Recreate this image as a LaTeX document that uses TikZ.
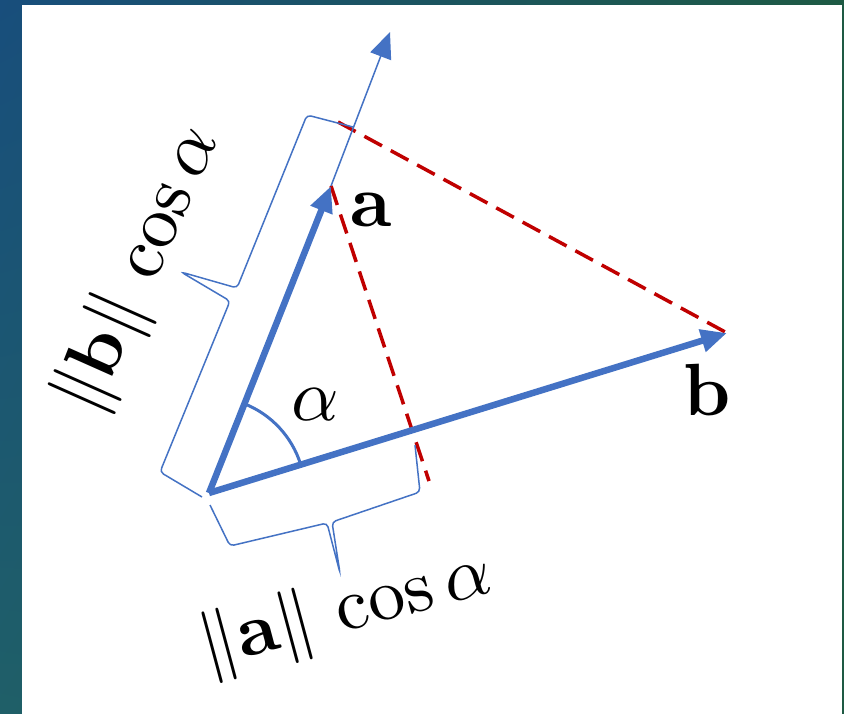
\documentclass[tikz,border=0pt]{standalone}
\usepackage{graphicx}
\usetikzlibrary{arrows.meta,calc,shadings}
\definecolor{vecblue}{HTML}{4472C4}
\definecolor{projred}{HTML}{C00000}
\definecolor{frameblue}{HTML}{184E7C}
\definecolor{frameteal}{HTML}{1F5F68}
\definecolor{framegreen}{HTML}{1E5A44}
\newcommand{\huglabel}[1]{\scalebox{7.4}{#1}}

\begin{document}
\begin{tikzpicture}[x=1pt, y=-1pt]
		\tikzstyle{vec}=[vecblue, line width=6.5pt, -{Triangle[length=26pt,width=22pt]}];
		\tikzstyle{axis}=[vecblue, line width=1.5pt, -{Triangle[length=26pt,width=22pt]}];
		\tikzstyle{proj}=[projred, line width=3.5pt, dash pattern=on 20pt off 10pt];
		\tikzstyle{bracket}=[vecblue, line width=1.5pt, rounded corners=4pt];
		\tikzstyle{lbl}=[inner sep=0pt];

		% frame
		\shade[upper left=frameblue, upper right=framegreen, lower left=frameteal, lower right=framegreen] (0,0) rectangle (844,714);
		\fill[white] (22,5) rectangle (841.5,714);

		\coordinate (O) at (209,493);
		\coordinate (A) at (331,186);
		\coordinate (B) at (727,333);
		\coordinate (E) at (390,32);
		\coordinate (P) at (338,122);
		\coordinate (Q) at (429,481);

		\draw[proj] (P) to (B) ;
		\draw[proj] (A) to (Q) ;
		\draw[axis] (A) to (E) ;
		\draw[vec] (O) to (A) ;
		\draw[vec] (O) to (B) ;
		\draw[vecblue, line width=3pt] ($(O)+(-17.2:96)$) arc[start angle=-17.2, end angle=-68.3, radius=96];

		% braces
		\draw[bracket] (353,127) -- (307,115) -- (237,288) -- (181,272) -- (230,301) -- (160,472) -- (202,497);
		\draw[bracket] (210,505) -- (230,546) -- (327,523) -- (340,573) -- (332,522) -- (420,492) -- (415,445);

		\node[lbl] (la) at (371,210) {\huglabel{\textbf{a}}};
		\node[lbl] (lb) at (707,390) {\huglabel{\textbf{b}}};
		\node[lbl] (alpha) at (315,405) {\huglabel{$\alpha$}};
		\node[lbl, rotate=66] (nb) at (140,270) {\huglabel{$\|\mathbf{b}\|\,\cos\alpha$}};
		\node[lbl, rotate=15] (na) at (346,612) {\huglabel{$\|\mathbf{a}\|\,\cos\alpha$}};
        \end{tikzpicture}
\end{document}
